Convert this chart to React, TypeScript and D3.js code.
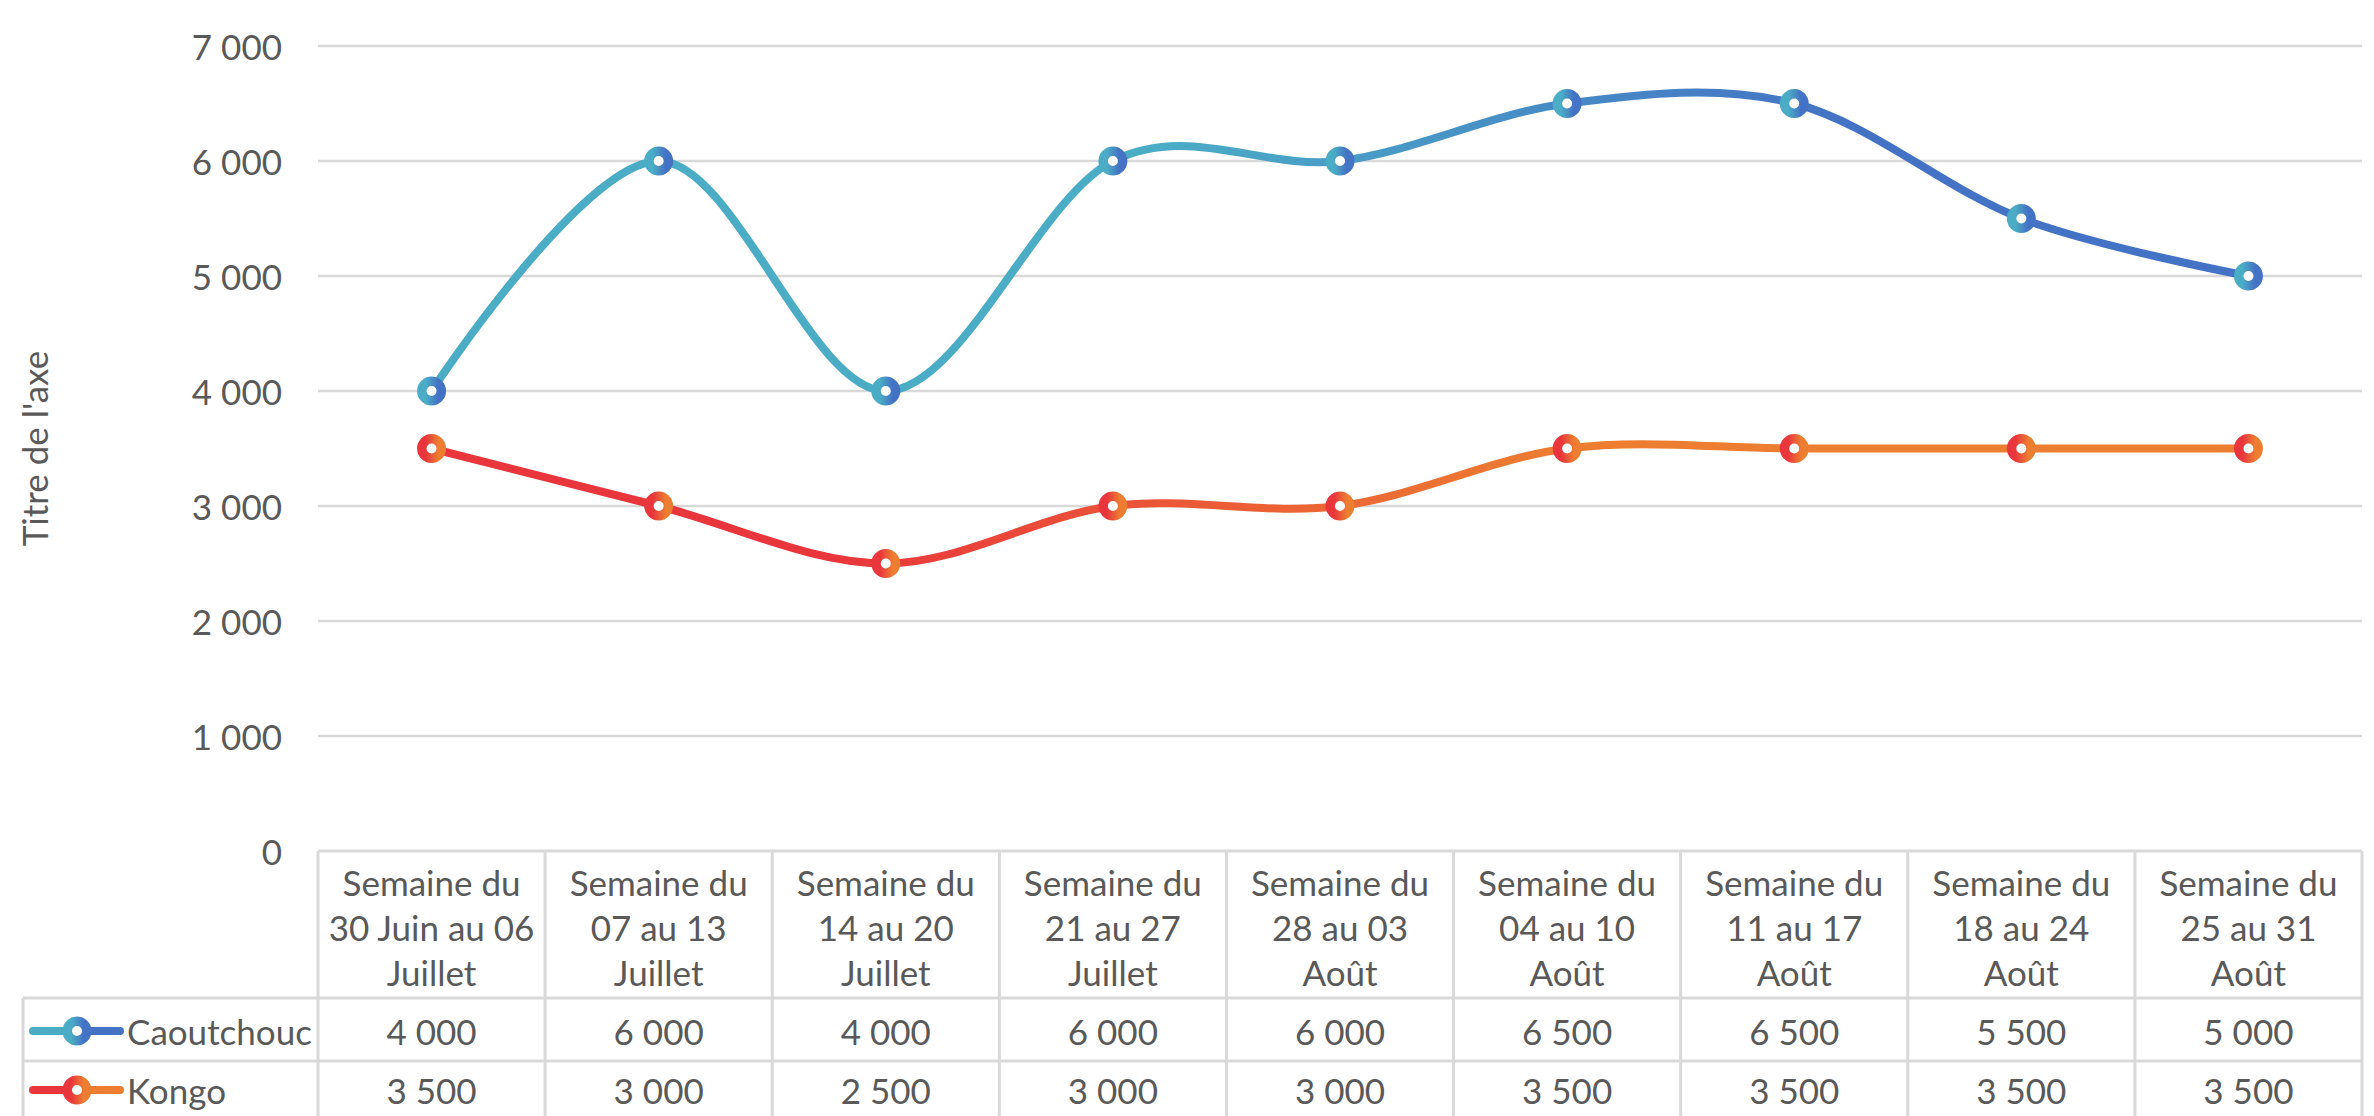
import React from "react";
import * as d3 from "d3";

const categories: string[][] = [
  ["Semaine du", "30 Juin au 06", "Juillet"],
  ["Semaine du", "07 au 13", "Juillet"],
  ["Semaine du", "14 au 20", "Juillet"],
  ["Semaine du", "21 au 27", "Juillet"],
  ["Semaine du", "28 au 03", "Août"],
  ["Semaine du", "04 au 10", "Août"],
  ["Semaine du", "11 au 17", "Août"],
  ["Semaine du", "18 au 24", "Août"],
  ["Semaine du", "25 au 31", "Août"],
];
const caoutchouc = [4000, 6000, 4000, 6000, 6000, 6500, 6500, 5500, 5000];
const kongo = [3500, 3000, 2500, 3000, 3000, 3500, 3500, 3500, 3500];
const yTicks = [0, 1000, 2000, 3000, 4000, 5000, 6000, 7000];
const axisTitle = "Titre de l'axe";

const series = [
  { name: "Caoutchouc", values: caoutchouc, c1: "#4BACC6", c2: "#4472C4", s1: 0.4, s2: 0.78, id: "c" },
  { name: "Kongo", values: kongo, c1: "#E9363C", c2: "#ED7D31", s1: 0.22, s2: 0.62, id: "k" },
];

const W = 2374;
const H = 1116;
const left = 318;
const right = 2362;
const top = 46;
const bottom = 851;
const headerBottom = 998;
const row1Bottom = 1061;
const row2Bottom = 1122;
const tableLeft = 23;
const FONT = "Lato, 'Open Sans', sans-serif";
const FS = 35;
const TXT = "#595959";
const GRID = "#D9D9D9";
const MR = 9.75;
const MSW = 9.5;

const fmt = (v: number) => d3.format(",")(v).replace(/,/g, " ");

export default function App() {
  const keys = categories.map((c) => c.join(" "));
  const x = d3.scaleBand<string>().domain(keys).range([left, right]).padding(0);
  const bw = x.bandwidth();
  const cx = (i: number) => (x(keys[i]) as number) + bw / 2;
  const y = d3.scaleLinear().domain([0, 7000]).range([bottom, top]);
  const line = d3
    .line<number>()
    .x((_, i) => cx(i))
    .y((d) => y(d))
    .curve(d3.curveCatmullRom.alpha(0));

  const rowCenters = [1031, 1090];
  const x0 = cx(0);
  const x8 = cx(8);

  return (
    <svg
      width={W}
      height={H}
      style={{ position: "absolute", left: 0, top: 0, background: "#fff" }}
      fontFamily={FONT}
    >
      <defs>
        {series.map((s) => (
          <React.Fragment key={s.id}>
            <linearGradient id={`line-${s.id}`} gradientUnits="userSpaceOnUse" x1={x0} x2={x8} y1={0} y2={0}>
              <stop offset={0} stopColor={s.c1} />
              <stop offset={s.s1} stopColor={s.c1} />
              <stop offset={s.s2} stopColor={s.c2} />
              <stop offset={1} stopColor={s.c2} />
            </linearGradient>
            <linearGradient id={`mk-${s.id}`} x1={0} x2={1} y1={0} y2={0}>
              <stop offset={0.2} stopColor={s.c1} />
              <stop offset={0.85} stopColor={s.c2} />
            </linearGradient>
            <linearGradient id={`lg-${s.id}`} gradientUnits="userSpaceOnUse" x1={33} x2={120} y1={0} y2={0}>
              <stop offset={0} stopColor={s.c1} />
              <stop offset={0.35} stopColor={s.c1} />
              <stop offset={0.65} stopColor={s.c2} />
              <stop offset={1} stopColor={s.c2} />
            </linearGradient>
          </React.Fragment>
        ))}
      </defs>

      {/* gridlines */}
      {yTicks.map((t) =>
        t === 0 ? null : (
          <line key={t} x1={left} x2={right} y1={y(t)} y2={y(t)} stroke={GRID} strokeWidth={2.5} />
        )
      )}
      {/* y tick labels */}
      {yTicks.map((t) => (
        <text key={"l" + t} x={282} y={y(t)} textAnchor="end" dominantBaseline="central" fontSize={FS} fill={TXT}>
          {fmt(t)}
        </text>
      ))}
      {/* axis title */}
      <text
        transform={`translate(34, ${(top + bottom) / 2}) rotate(-90)`}
        textAnchor="middle"
        dominantBaseline="central"
        fontSize={FS}
        fill={TXT}
      >
        {axisTitle}
      </text>

      {/* data table */}
      <g stroke={GRID} strokeWidth={3} fill="none">
        <line x1={left} x2={right} y1={bottom} y2={bottom} />
        <line x1={tableLeft} x2={right} y1={headerBottom} y2={headerBottom} />
        <line x1={tableLeft} x2={right} y1={row1Bottom} y2={row1Bottom} />
        <line x1={tableLeft} x2={right} y1={row2Bottom} y2={row2Bottom} />
        <line x1={tableLeft} x2={tableLeft} y1={headerBottom} y2={H} />
        {keys.map((k) => (
          <line key={k} x1={x(k) as number} x2={x(k) as number} y1={bottom} y2={H} />
        ))}
        <line x1={right} x2={right} y1={bottom} y2={H} />
      </g>
      {categories.map((c, i) => (
        <text key={"h" + i} textAnchor="middle" fontSize={FS} fill={TXT}>
          {c.map((ln, j) => (
            <tspan key={j} x={cx(i)} y={882 + j * 45} dominantBaseline="central">
              {ln}
            </tspan>
          ))}
        </text>
      ))}
      {series.map((s, r) => (
        <g key={"row" + s.id}>
          <line x1={33} x2={120} y1={rowCenters[r]} y2={rowCenters[r]} stroke={`url(#lg-${s.id})`} strokeWidth={8} strokeLinecap="round" />
          <circle cx={77} cy={rowCenters[r]} r={MR} fill="#fff" stroke={`url(#mk-${s.id})`} strokeWidth={MSW} />
          <text x={127} y={rowCenters[r]} dominantBaseline="central" fontSize={FS} fill={TXT}>
            {s.name}
          </text>
          {s.values.map((v, i) => (
            <text key={i} x={cx(i)} y={rowCenters[r]} textAnchor="middle" dominantBaseline="central" fontSize={FS} fill={TXT}>
              {fmt(v)}
            </text>
          ))}
        </g>
      ))}

      {/* lines */}
      {series.map((s) => (
        <g key={"s" + s.id}>
          <path d={line(s.values) as string} fill="none" stroke={`url(#line-${s.id})`} strokeWidth={8} strokeLinecap="round" />
          {s.values.map((v, i) => (
            <circle key={i} cx={cx(i)} cy={y(v)} r={MR} fill="#fff" stroke={`url(#mk-${s.id})`} strokeWidth={MSW} />
          ))}
        </g>
      ))}
    </svg>
  );
}
